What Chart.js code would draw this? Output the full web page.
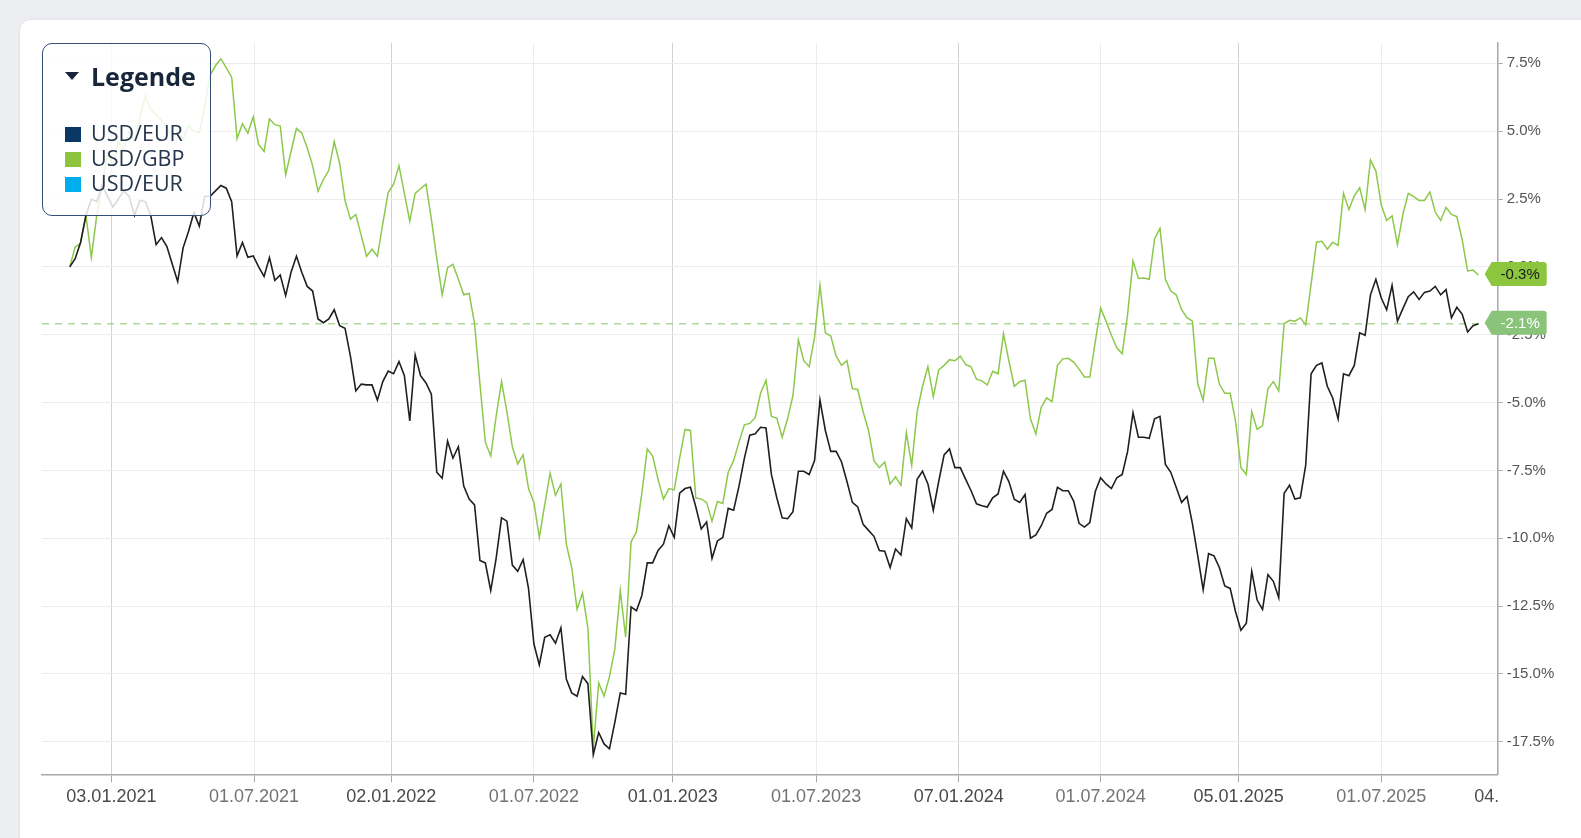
<!DOCTYPE html>
<html>
<head>
<meta charset="utf-8">
<script src="https://cdn.jsdelivr.net/npm/chart.js@4.4.1/dist/chart.umd.min.js"></script>
<style>
html, body { margin: 0; padding: 0; width: 1581px; height: 838px; overflow: hidden; background: #eceef1; }
#card { position: absolute; left: 20px; top: 20px; width: 1620px; height: 900px; background: #fff; border-radius: 10px; box-shadow: 0 0 3px rgba(0,0,0,0.10); }
#wrap { position: absolute; left: 0; top: 0; width: 1581px; height: 838px; }
#legend { position: absolute; left: 42px; top: 43px; width: 167px; height: 171px; border: 1.6px solid #34507a; border-radius: 10px; background: rgba(255,255,255,0.84); font-family: "Open Sans", "Noto Sans", sans-serif; color: #26374d; }
#legend .title { position: absolute; left: 22px; top: 15px; font-size: 25px; font-weight: 700; color: #17263b; white-space: nowrap; }
#legend .tri { display: inline-block; width: 0; height: 0; border-left: 7px solid transparent; border-right: 7px solid transparent; border-top: 8px solid #17263b; margin-right: 12px; vertical-align: 6px; }
#legend .item { position: absolute; left: 22px; font-size: 21.5px; line-height: 25px; white-space: nowrap; }
#legend .sw { display: inline-block; width: 16px; height: 15px; margin-right: 10px; vertical-align: -1px; }
</style>
</head>
<body>
<div id="card"></div>
<div id="wrap"><canvas id="chart" width="1581" height="838"></canvas></div>
<div id="legend">
  <div class="title"><span class="tri"></span>Legende</div>
  <div class="item" style="top:76px"><span class="sw" style="background:#0b3763"></span>USD/EUR</div>
  <div class="item" style="top:101px"><span class="sw" style="background:#8cc43f"></span>USD/GBP</div>
  <div class="item" style="top:126px"><span class="sw" style="background:#00aeef"></span>USD/EUR</div>
</div>
<script>
// weekly points, first one on 11.11.2020
var firstWeek = '2020-11-11';

// performance in %
var seriesEur = [
 0.0, 0.3, 0.9, 1.9, 2.5, 2.4, 3.0, 2.6, 2.2, 2.5, 2.8, 2.6, 1.9, 2.45, 2.4, 1.9, 0.82, 1.08, 0.75, 0.1,
 -0.54, 0.7, 1.3, 2.0, 1.5, 2.6, 2.6, 2.8, 3.0, 2.9, 2.4, 0.4, 0.9, 0.35, 0.4, 0.0, -0.35, 0.34, -0.5, -0.3,
 -1.06, -0.2, 0.39, -0.21, -0.72, -0.89, -1.92, -2.06, -1.92, -1.58, -2.17, -2.26, -3.29, -4.57, -4.32, -4.35, -4.35, -4.91, -4.23, -3.84,
 -3.94, -3.49, -4.01, -5.68, -3.25, -4.01, -4.28, -4.69, -7.57, -7.79, -6.42, -7.05, -6.63, -8.08, -8.56, -8.77, -10.82, -10.91, -11.93, -10.74,
 -9.25, -9.37, -10.99, -11.22, -10.79, -11.85, -13.90, -14.67, -13.65, -13.56, -13.87, -13.30, -15.19, -15.70, -15.82, -15.10, -15.36, -17.98, -17.16, -17.58,
 -17.76, -16.78, -15.70, -15.75, -12.53, -12.67, -12.11, -10.91, -10.91, -10.45, -10.22, -9.54, -9.97, -8.34, -8.17, -8.12, -8.85, -9.66, -9.40, -10.74,
 -10.10, -9.97, -8.90, -8.97, -8.08, -7.05, -6.20, -6.15, -5.91, -5.94, -7.65, -8.51, -9.25, -9.28, -9.02, -7.53, -7.53, -7.65, -7.14, -4.91,
 -6.03, -6.80, -6.80, -7.19, -7.91, -8.68, -8.85, -9.49, -9.71, -9.93, -10.45, -10.48, -11.08, -10.40, -10.62, -9.28, -9.62, -7.83, -7.53, -8.00,
 -8.97, -7.91, -6.93, -6.71, -7.40, -7.40, -7.83, -8.25, -8.73, -8.80, -8.85, -8.51, -8.37, -7.53, -7.91, -8.56, -8.68, -8.39, -10.00, -9.88,
 -9.54, -9.08, -8.94, -8.12, -8.25, -8.25, -8.63, -9.45, -9.59, -9.42, -8.29, -7.77, -8.00, -8.17, -7.77, -7.65, -6.80, -5.38, -6.28, -6.28,
 -6.32, -5.60, -5.51, -7.28, -7.57, -8.12, -8.68, -8.46, -9.45, -10.65, -11.90, -10.57, -10.65, -11.08, -11.76, -11.85, -12.71, -13.39, -13.13, -11.22,
 -12.28, -12.62, -11.34, -11.59, -12.19, -8.34, -8.05, -8.56, -8.51, -7.31, -3.94, -3.63, -3.54, -4.40, -4.83, -5.60, -3.94, -4.01, -3.63, -2.43,
 -2.52, -1.03, -0.46, -1.15, -1.58, -0.68, -2.00, -1.54, -1.10, -0.92, -1.20, -0.94, -0.89, -0.72, -1.03, -0.84, -1.88, -1.49, -1.75, -2.40,
 -2.17, -2.1
];
var seriesGbp = [
 0.0, 0.73, 0.87, 1.9, 0.35, 1.9, 3.0, 4.2, 3.7, 4.6, 4.3, 5.0, 4.6, 5.5, 6.3, 5.8, 5.6, 5.4, 5.1, 4.8,
 4.9, 4.7, 5.2, 5.0, 4.95, 5.9, 7.07, 7.41, 7.67, 7.33, 6.99, 4.73, 5.27, 4.93, 5.53, 4.50, 4.25, 5.45, 5.24, 5.19,
 3.39, 4.25, 5.10, 4.93, 4.38, 3.73, 2.79, 3.22, 3.56, 4.62, 3.82, 2.45, 1.76, 1.93, 1.16, 0.39, 0.65, 0.39, 1.59, 2.74,
 3.05, 3.73, 2.71, 1.68, 2.71, 2.88, 3.05, 1.76, 0.31, -1.03, -0.03, 0.09, -0.46, -1.03, -0.98, -2.09, -4.32, -6.46, -6.97, -5.51,
 -4.23, -5.34, -6.63, -7.26, -6.93, -8.17, -8.68, -9.97, -8.77, -7.60, -8.42, -8.00, -10.22, -11.08, -12.62, -12.02, -13.30, -17.76, -15.33, -15.82,
 -15.10, -14.08, -11.93, -13.65, -10.14, -9.76, -8.34, -6.71, -6.97, -7.83, -8.56, -8.17, -8.22, -7.05, -5.99, -6.03, -8.51, -8.56, -8.68, -9.37,
 -8.65, -8.72, -7.57, -7.14, -6.46, -5.82, -5.77, -5.55, -4.66, -4.18, -5.51, -5.57, -6.28, -5.60, -4.74, -2.69, -3.46, -3.68, -2.60, -0.68,
 -2.43, -2.55, -3.29, -3.63, -3.46, -4.49, -4.52, -5.34, -6.03, -7.14, -7.40, -7.19, -8.00, -7.74, -8.05, -6.11, -7.31, -5.34, -4.40, -3.68,
 -4.79, -3.80, -3.63, -3.42, -3.46, -3.29, -3.60, -3.68, -4.14, -4.20, -4.35, -3.85, -3.94, -2.47, -3.46, -4.40, -4.23, -4.18, -5.60, -6.16,
 -5.17, -4.83, -4.97, -3.63, -3.39, -3.37, -3.51, -3.77, -4.06, -4.06, -2.77, -1.52, -2.00, -2.52, -2.98, -3.20, -1.75, 0.22, -0.43, -0.41,
 -0.46, 1.03, 1.42, -0.46, -0.89, -1.03, -1.58, -1.87, -2.00, -4.32, -4.91, -3.37, -3.37, -4.32, -4.66, -4.66, -5.68, -7.40, -7.65, -5.34,
 -5.99, -5.86, -4.49, -4.23, -4.57, -2.09, -1.97, -2.00, -1.88, -2.14, -0.63, 0.91, 0.94, 0.65, 0.91, 0.79, 2.71, 2.11, 2.62, 2.91,
 2.11, 3.94, 3.53, 2.28, 1.71, 1.88, 0.82, 1.93, 2.71, 2.59, 2.45, 2.45, 2.76, 2.02, 1.71, 2.19, 1.93, 1.85, 0.99, -0.15,
 -0.12, -0.3
];

// x axis: label text and the day each label sits on (axis is not quite calendar-linear)
var xTickLabels = ['03.01.2021', '01.07.2021', '02.01.2022', '01.07.2022', '01.01.2023', '01.07.2023',
                   '07.01.2024', '01.07.2024', '05.01.2025', '01.07.2025', '04.01.2026'];
var xTickAt = ['2021-01-04', '2021-07-08', '2022-01-02', '2022-07-06', '2023-01-02', '2023-07-07',
               '2024-01-08', '2024-07-10', '2025-01-05', '2025-07-09', '2026-01-04'];
var yTickValues = [-17.5, -15.0, -12.5, -10.0, -7.5, -5.0, -2.5, 0.0, 2.5, 5.0, 7.5];
var xRange = ['2020-10-06', '2025-12-07'];
var yRange = [-18.7, 8.25];
var refLine = -2.1;

var DAY = 86400000;
function dayNum(s) {
    var p = s.split('-');
    return Date.UTC(+p[0], +p[1] - 1, +p[2]) / DAY;
}
var tickDays = xTickAt.map(dayNum);
function tickIndex(v) { return tickDays.indexOf(v); }
function isMajor(v) { var i = tickIndex(v); return i >= 0 && xTickLabels[i].substr(3, 2) === '01'; }

var start = dayNum(firstWeek);
function toPoints(arr) {
    var pts = [];
    for (var i = 0; i < arr.length; i++) pts.push({ x: start + 7 * i, y: arr[i] });
    return pts;
}

var labelFont = '"Liberation Sans", Arial, sans-serif';

var extras = {
    id: 'extras',
    beforeDatasetsDraw: function (chart) {
        var ctx = chart.ctx, a = chart.chartArea, y = chart.scales.y.getPixelForValue(refLine);
        ctx.save();
        ctx.strokeStyle = 'rgba(150, 205, 120, 0.75)';
        ctx.lineWidth = 1.5;
        ctx.setLineDash([7, 6]);
        ctx.beginPath();
        ctx.moveTo(a.left, y);
        ctx.lineTo(a.right, y);
        ctx.stroke();
        ctx.restore();
    },
    afterDraw: function (chart) {
        var ctx = chart.ctx, a = chart.chartArea, xs = chart.scales.x, ys = chart.scales.y;
        // last tick label, cut off at the end of the axis
        var last = xTickLabels.length - 1;
        var ly = xs.top + 20, base = 'middle', items = xs._labelItems;
        if (items && items.length) {
            ly = items[0].options.translation[1] + (items[0].textOffset || 0);
            base = items[0].options.textBaseline || 'middle';
        }
        ctx.save();
        ctx.beginPath();
        ctx.rect(0, 0, a.right, chart.height);
        ctx.clip();
        ctx.font = '18px ' + labelFont;
        ctx.fillStyle = '#4d4d4d';
        ctx.textAlign = 'center';
        ctx.textBaseline = base;
        ctx.fillText(xTickLabels[last], xs.getPixelForValue(tickDays[last]), ly);
        ctx.restore();

        // value tags at the right
        var tags = [
            { v: seriesGbp[seriesGbp.length - 1], fill: '#8cc63e', text: '#1a1a1a' },
            { v: seriesEur[seriesEur.length - 1], fill: '#89c47a', text: '#ffffff' }
        ];
        tags.forEach(function (t) {
            var y = ys.getPixelForValue(t.v) - 1;
            var x0 = a.right - 13, x1 = a.right - 6, x2 = a.right + 49, h = 12;
            ctx.save();
            ctx.fillStyle = t.fill;
            ctx.beginPath();
            ctx.moveTo(x0, y);
            ctx.lineTo(x1, y - h);
            ctx.lineTo(x2 - 3, y - h);
            ctx.quadraticCurveTo(x2, y - h, x2, y - h + 3);
            ctx.lineTo(x2, y + h - 3);
            ctx.quadraticCurveTo(x2, y + h, x2 - 3, y + h);
            ctx.lineTo(x1, y + h);
            ctx.closePath();
            ctx.fill();
            ctx.font = '15px ' + labelFont;
            ctx.fillStyle = t.text;
            ctx.textAlign = 'center';
            ctx.textBaseline = 'middle';
            ctx.fillText(t.v.toFixed(1) + '%', (x1 + x2) / 2 + 1, y + 1);
            ctx.restore();
        });
    }
};

var chart = new Chart(document.getElementById('chart'), {
    type: 'line',
    data: {
        datasets: [
            { label: 'USD/EUR', data: toPoints(seriesEur), borderColor: '#1f1f1f', borderWidth: 1.6, pointRadius: 0, tension: 0, fill: false },
            { label: 'USD/GBP', data: toPoints(seriesGbp), borderColor: '#8cc84b', borderWidth: 1.5, pointRadius: 0, tension: 0, fill: false }
        ]
    },
    options: {
        responsive: false,
        animation: false,
        devicePixelRatio: 1,
        layout: { padding: { left: 42, top: 43, right: 0, bottom: 0 } },
        plugins: { legend: { display: false }, tooltip: { enabled: false } },
        scales: {
            x: {
                type: 'linear',
                min: dayNum(xRange[0]),
                max: dayNum(xRange[1]),
                afterBuildTicks: function (scale) {
                    scale.ticks = tickDays.map(function (d) { return { value: d }; })
                        .filter(function (t) { return t.value <= scale.max; });
                },
                afterFit: function (scale) { scale.height = 63.7; },
                border: { color: '#a8a8a8', width: 1.5 },
                grid: {
                    color: function (c) { return c.tick && isMajor(c.tick.value) ? '#d2d2d2' : '#ebebeb'; },
                    tickColor: '#a8a8a8',
                    tickLength: 8
                },
                ticks: {
                    autoSkip: false,
                    maxRotation: 0,
                    padding: 4,
                    font: { size: 18, family: labelFont },
                    color: function (c) { return c.tick && isMajor(c.tick.value) ? '#4a4a4a' : '#737373'; },
                    callback: function (v) { var i = tickIndex(v); return i >= 0 ? xTickLabels[i] : ''; }
                }
            },
            y: {
                position: 'right',
                min: yRange[0],
                max: yRange[1],
                afterBuildTicks: function (scale) {
                    scale.ticks = yTickValues.map(function (v) { return { value: v }; });
                },
                afterFit: function (scale) { scale.width = 83.3; },
                border: { color: '#a8a8a8', width: 1.5 },
                grid: { color: '#ececec', tickColor: '#a8a8a8', tickLength: 5 },
                ticks: {
                    padding: 4,
                    font: { size: 15, family: labelFont },
                    color: '#555555',
                    callback: function (v) { return v.toFixed(1) + '%'; }
                }
            }
        }
    },
    plugins: [extras]
});
</script>
</body>
</html>
